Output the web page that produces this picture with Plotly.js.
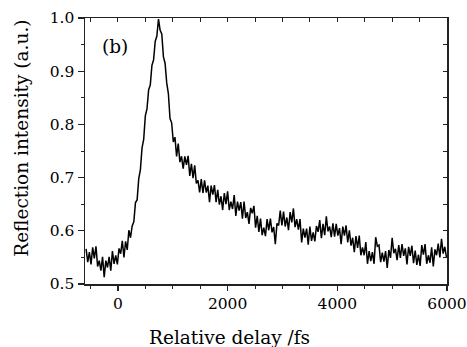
<!DOCTYPE html>
<html>
<head>
<meta charset="utf-8">
<script src="https://cdn.plot.ly/plotly-3.0.1.min.js"></script>
<style>html,body{margin:0;padding:0;background:#fff;}#chart{width:467px;height:347px;}</style>
</head>
<body>
<div id="chart"></div>
<script>
// Relative delay (fs)
const delay = [
-580,-550,-520,-490,-460,-430,-400,-370,-340,-310,-280,-250,-220,-190,-160,-130,-100,-70,-40,-10,
20,50,80,110,140,170,200,230,260,290,320,350,380,410,440,470,500,530,560,590,
620,650,680,710,740,770,800,830,860,890,920,950,980,1010,1040,1070,1100,1130,1160,1190,
1220,1250,1280,1310,1340,1370,1400,1430,1460,1490,1520,1550,1580,1610,1640,1670,1700,1730,1760,1790,
1820,1850,1880,1910,1940,1970,2000,2030,2060,2090,2120,2150,2180,2210,2240,2270,2300,2330,2360,2390,
2420,2450,2480,2510,2540,2570,2600,2630,2660,2690,2720,2750,2780,2810,2840,2870,2900,2930,2960,2990,
3020,3050,3080,3110,3140,3170,3200,3230,3260,3290,3320,3350,3380,3410,3440,3470,3500,3530,3560,3590,
3620,3650,3680,3710,3740,3770,3800,3830,3860,3890,3920,3950,3980,4010,4040,4070,4100,4130,4160,4190,
4220,4250,4280,4310,4340,4370,4400,4430,4460,4490,4520,4550,4580,4610,4640,4670,4700,4730,4760,4790,
4820,4850,4880,4910,4940,4970,5000,5030,5060,5090,5120,5150,5180,5210,5240,5270,5300,5330,5360,5390,
5420,5450,5480,5510,5540,5570,5600,5630,5660,5690,5720,5750,5780,5810,5840,5870,5900,5930,5960,5990
];
// Reflection intensity (a.u.)
const intensity = [
0.566,0.541,0.560,0.537,0.569,0.548,0.571,0.533,0.544,0.525,0.551,0.513,0.544,0.531,0.551,0.525,0.562,0.538,0.554,0.537,
0.567,0.557,0.581,0.550,0.580,0.564,0.601,0.587,0.609,0.617,0.653,0.658,0.698,0.715,0.756,0.772,0.816,0.829,0.865,0.874,
0.911,0.921,0.956,0.966,0.998,0.977,0.970,0.927,0.915,0.878,0.858,0.811,0.803,0.767,0.776,0.740,0.764,0.729,0.740,0.717,
0.740,0.724,0.741,0.703,0.726,0.699,0.723,0.689,0.695,0.672,0.697,0.671,0.695,0.672,0.685,0.654,0.685,0.668,0.686,0.654,
0.677,0.649,0.665,0.639,0.671,0.650,0.674,0.639,0.655,0.641,0.667,0.628,0.655,0.638,0.654,0.623,0.655,0.624,0.635,0.613,
0.643,0.633,0.647,0.606,0.628,0.598,0.623,0.592,0.606,0.590,0.622,0.601,0.623,0.597,0.607,0.575,0.614,0.610,0.638,0.610,
0.636,0.608,0.625,0.601,0.635,0.616,0.642,0.607,0.622,0.602,0.622,0.578,0.604,0.587,0.604,0.574,0.608,0.581,0.597,0.580,
0.609,0.598,0.620,0.586,0.613,0.592,0.627,0.599,0.608,0.588,0.614,0.589,0.613,0.591,0.605,0.575,0.608,0.591,0.610,0.578,
0.601,0.572,0.587,0.560,0.590,0.568,0.591,0.554,0.569,0.554,0.579,0.538,0.562,0.543,0.560,0.538,0.588,0.571,0.573,0.541,
0.559,0.542,0.562,0.530,0.564,0.549,0.587,0.558,0.566,0.545,0.573,0.549,0.575,0.553,0.567,0.537,0.570,0.553,0.572,0.539,
0.563,0.536,0.555,0.534,0.573,0.555,0.575,0.538,0.554,0.540,0.569,0.533,0.565,0.554,0.576,0.550,0.585,0.557,0.570,0.550
];
const xTickVals = [0, 2000, 4000, 6000];
const xTickText = ['0', '2000', '4000', '6000'];
const yTickVals = [0.5, 0.6, 0.7, 0.8, 0.9, 1.0];
const yTickText = ['0.5', '0.6', '0.7', '0.8', '0.9', '1.0'];

const FONT = 'DejaVu Serif, serif';
const AX = '#222';

const traces = [
  {x: delay, y: intensity, type: 'scatter', mode: 'lines',
   line: {color: '#000', width: 1.5, simplify: false}, hoverinfo: 'skip', showlegend: false},
  {x: [null], y: [null], xaxis: 'x2', yaxis: 'y2', type: 'scatter', mode: 'lines',
   hoverinfo: 'skip', showlegend: false}
];

const layout = {
  width: 467, height: 347,
  margin: {l: 85, r: 20, t: 18, b: 63},
  paper_bgcolor: '#fff', plot_bgcolor: '#fff',
  font: {family: FONT, color: '#000', size: 15.5},
  showlegend: false,
  xaxis: {
    range: [-600, 6000], tickmode: 'array', tickvals: xTickVals, ticktext: xTickText,
    ticks: 'outside', ticklen: 5, tickwidth: 1.2, tickcolor: AX,
    minor: {dtick: 500, tick0: 0, ticks: 'outside', ticklen: 3, tickwidth: 1, tickcolor: AX, showgrid: false},
    showline: true, linecolor: AX, linewidth: 1.5, showgrid: false, zeroline: false,
    tickfont: {family: FONT, size: 15.5, color: '#000'}
  },
  yaxis: {
    range: [0.5, 1.0], tickmode: 'array', tickvals: yTickVals, ticktext: yTickText,
    ticks: 'outside', ticklen: 6, tickwidth: 1.2, tickcolor: AX,
    minor: {dtick: 0.05, tick0: 0.5, ticks: 'outside', ticklen: 3, tickwidth: 1, tickcolor: AX, showgrid: false},
    showline: true, linecolor: AX, linewidth: 1.5, showgrid: false, zeroline: false,
    tickfont: {family: FONT, size: 15.5, color: '#000'}
  },
  xaxis2: {
    overlaying: 'x', side: 'top', anchor: 'y2', range: [-600, 6000],
    tickmode: 'linear', tick0: 0, dtick: 500, ticks: 'inside', ticklen: 4, tickwidth: 1, tickcolor: AX,
    showticklabels: false, showline: true, linecolor: AX, linewidth: 1.5, showgrid: false, zeroline: false
  },
  yaxis2: {
    overlaying: 'y', side: 'right', anchor: 'x2', range: [0.5, 1.0],
    tickmode: 'linear', tick0: 0.5, dtick: 0.05, ticks: 'inside', ticklen: 4, tickwidth: 1, tickcolor: AX,
    showticklabels: false, showline: true, linecolor: AX, linewidth: 1.5, showgrid: false, zeroline: false
  },
  annotations: [
    {text: 'Relative delay /fs', xref: 'paper', yref: 'paper', x: 0.40, y: -0.203,
     xanchor: 'center', yanchor: 'middle', showarrow: false,
     font: {family: FONT, size: 18.5, color: '#000'}},
    {text: 'Reflection intensity (a.u.)', xref: 'paper', yref: 'paper', x: -0.174, y: 0.546,
     xanchor: 'center', yanchor: 'middle', textangle: -90, showarrow: false,
     font: {family: FONT, size: 18.5, color: '#000'}},
    {text: '(b)', xref: 'paper', yref: 'paper', x: 0.083, y: 0.894,
     xanchor: 'center', yanchor: 'middle', showarrow: false,
     font: {family: FONT, size: 18.5, color: '#000'}}
  ]
};

Plotly.newPlot('chart', traces, layout, {staticPlot: true, displayModeBar: false});
</script>
</body>
</html>
